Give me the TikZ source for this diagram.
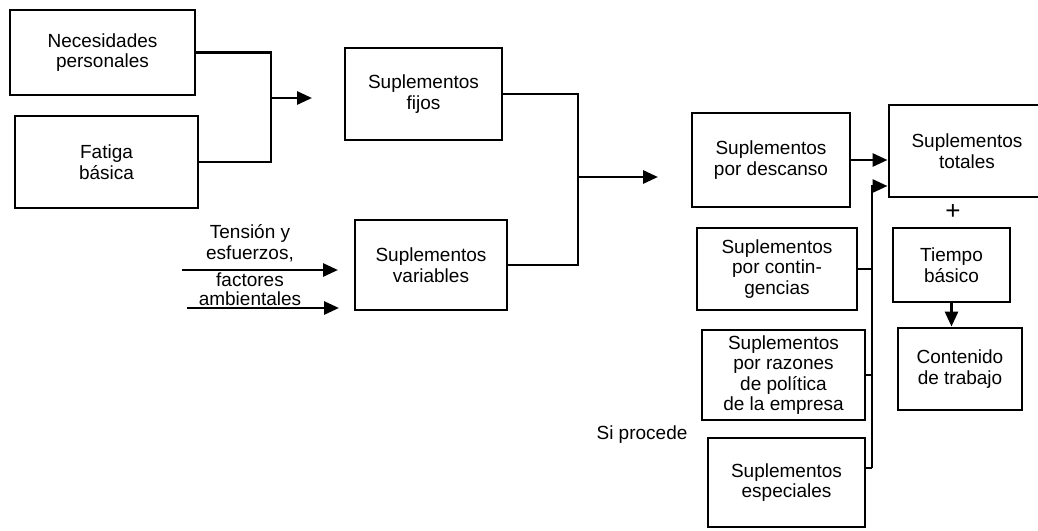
\documentclass[tikz,border=0pt]{standalone}
\usepackage{fontspec}
\setmainfont{Liberation Sans}
\usetikzlibrary{arrows.meta,calc}
\begin{document}
\begin{tikzpicture}[x=1pt,y=-1pt,
  line width=2.8pt,
  txt/.style={font=\fontsize{19}{20.5}\selectfont, align=center, inner sep=0pt},
  blk/.style={txt, draw, line width=2.9pt, minimum width=#1},
  blk/.default=150pt,
  arr/.style={-{Triangle[length=15pt,width=13pt]}}]
\useasboundingbox (0,0) rectangle (1038,530);

% left column
\node[blk=185pt, minimum height=85pt] (np) at (102.5,52.5) {Necesidades\\personales};
\node[blk=183pt, minimum height=92pt] (fb) at (106.5,162) {Fatiga\\básica};

% middle column
\node[blk=157pt, minimum height=92pt] (sf) at (423.5,94) {Suplementos\\fijos};
\node[blk=152pt, minimum height=90pt] (sv) at (431,265) {Suplementos\\variables};

% inputs to variable allowances
\coordinate (in1s) at (182,270);
\coordinate (in1e) at (338,270);
\coordinate (in2s) at (187,308);
\coordinate (in2e) at (339,308);
\node[txt] (lab1) at (250,243) {Tensión y\\esfuerzos,};
\node[txt, font=\fontsize{19}{19}\selectfont] (lab2) at (250,289) {factores\\ambientales};
\draw[arr] (in1s) -- (in1e);
\draw[arr] (in2s) -- (in2e);

% right group
\node[blk=158pt, minimum height=94pt] (sd) at (771,160) {Suplementos\\por descanso};
\node[blk=160pt, minimum height=82pt] (sc) at (777,269) {Suplementos\\por contin-\\gencias};
\node[blk=163pt, minimum height=90pt] (sr) at (783.5,375) {Suplementos\\por razones\\de política\\de la empresa};
\node[blk=157pt, minimum height=89pt] (se) at (786.5,482.5) {Suplementos\\especiales};
\node[txt] (sip) at (642,435) {Si procede};

\node[blk=156pt, minimum height=92pt] (st) at (967,151) {Suplementos\\totales};
\node[txt, font=\fontsize{26}{26}\selectfont] (plus) at (953,212) {+};
\node[blk=117pt, minimum height=74pt] (tb) at (951.5,265) {Tiempo\\básico};
\node[blk=124pt, minimum height=82pt] (ct) at (960,369) {Contenido\\de trabajo};

% joins on the left
\coordinate (j1) at (271,98);
\coordinate (j1e) at (312,98);
\draw (np.east) -| (j1) |- (fb.east);
\draw[arr] (j1) -- (j1e);

\coordinate (j2) at (578,177);
\coordinate (j2e) at (658,177);
\draw (sf.east) -| (j2) |- (sv.east);
\draw[arr] (j2) -- (j2e);

% joins on the right
\draw[arr] (sd.east) -- (sd.east -| st.west);
\coordinate (bt) at (872,186);
\coordinate (bb) at (872,468);
\draw[arr] (bb) -- (bt) -- (bt -| st.west);
\draw (sc.east) -- (sc.east -| bt);
\draw (sr.east) -- (sr.east -| bt);
\draw (bb -| se.east) -- (bb);

\draw[arr] (tb.south) -- (tb.south |- ct.north);
\end{tikzpicture}
\end{document}
